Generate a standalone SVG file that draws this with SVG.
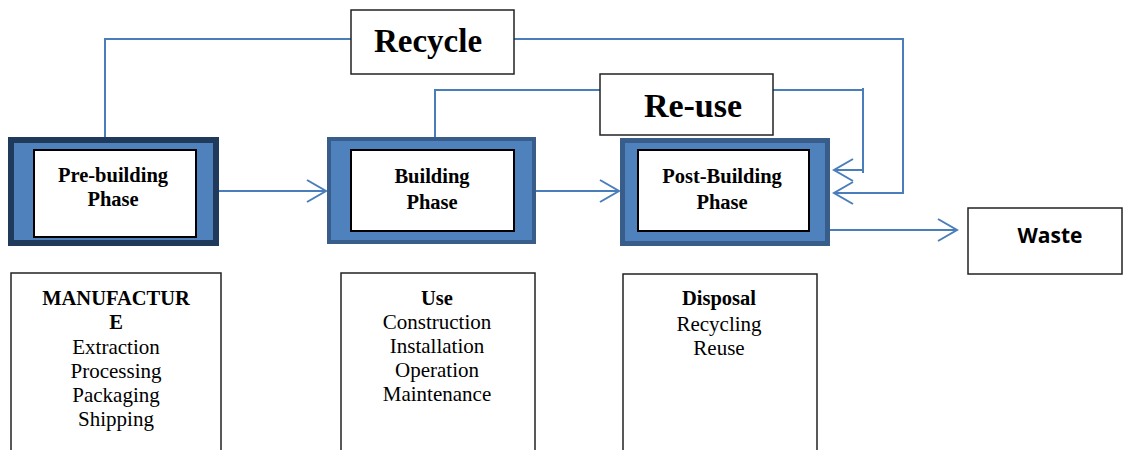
<svg xmlns="http://www.w3.org/2000/svg" width="1125" height="450" viewBox="0 0 1125 450">
<style>
.phase{fill:#4f81bd}
.inner{fill:#fff;stroke:#000;stroke-width:2}
.box{fill:#fff;stroke:#222;stroke-width:1.5}
.conn{fill:none;stroke:#4a7ebb;stroke-width:2}
.lbl{font-family:"Liberation Serif","Times New Roman",serif;font-weight:bold;font-size:20.5px;text-anchor:middle;fill:#000}
.big{font-family:"Liberation Serif","Times New Roman",serif;font-weight:bold;font-size:33px;text-anchor:middle;fill:#000}
.list{font-family:"Liberation Serif","Times New Roman",serif;font-size:21px;text-anchor:middle;fill:#000}
.listb{font-family:"Liberation Serif","Times New Roman",serif;font-size:20.5px;font-weight:bold;text-anchor:middle;fill:#000}
.sans{font-family:"Open Sans","Liberation Sans",sans-serif;font-weight:bold;font-size:21px;text-anchor:middle;fill:#000}
</style>
<defs>
<marker id="chev" markerWidth="24" markerHeight="28" refX="20" refY="12" orient="auto" markerUnits="userSpaceOnUse">
<path d="M1,1 L20,12 L1,23" fill="none" stroke="#4a7ebb" stroke-width="2"/>
</marker>
</defs>
<rect width="1125" height="450" fill="#fff"/>
<g id="connectors">
<path class="conn" d="M351,39 H105 V138"/>
<path class="conn" d="M514,39 H903 V193 H834" marker-end="url(#chev)"/>
<path class="conn" d="M600,90 H435 V138"/>
<path class="conn" d="M773,90 H863 V173"/>
<path class="conn" d="M863,88 V92"/>
<path class="conn" d="M863,170 H834" marker-end="url(#chev)"/>
<path class="conn" d="M218,191 H326" marker-end="url(#chev)"/>
<path class="conn" d="M536,191 H619" marker-end="url(#chev)"/>
<path class="conn" d="M830,230 H957" marker-end="url(#chev)"/>
</g>
<g id="recycle">
<rect class="box" x="351" y="10" width="163" height="64"/>
<text class="big" x="428" y="52">Recycle</text>
</g>
<g id="reuse">
<rect class="box" x="600" y="74" width="173" height="61"/>
<text class="big" x="693" y="117" style="font-size:34px">Re-use</text>
</g>
<g id="pre-building">
<rect class="phase" x="11" y="140" width="205" height="103" stroke="#203a5c" stroke-width="6"/>
<rect class="inner" x="34" y="150" width="162" height="87"/>
<text class="lbl" x="113" y="182">Pre-building</text>
<text class="lbl" x="113" y="206">Phase</text>
</g>
<g id="building">
<rect class="phase" x="329" y="139" width="205" height="103" stroke="#385d8a" stroke-width="4"/>
<rect class="inner" x="351" y="150" width="163" height="81"/>
<text class="lbl" x="432" y="183">Building</text>
<text class="lbl" x="432" y="209">Phase</text>
</g>
<g id="post-building">
<rect class="phase" x="622.5" y="140.5" width="205" height="103" stroke="#385d8a" stroke-width="5"/>
<rect class="inner" x="638" y="150" width="171" height="81"/>
<text class="lbl" x="722" y="183">Post-Building</text>
<text class="lbl" x="722" y="209">Phase</text>
</g>
<g id="waste">
<rect class="box" x="968" y="208" width="154" height="66"/>
<text class="sans" x="1050" y="243">Waste</text>
</g>
<g id="manufacture">
<rect class="box" x="11" y="273" width="210" height="178"/>
<text class="listb" x="116" y="305">MANUFACTUR</text>
<text class="listb" x="116" y="329">E</text>
<text class="list" x="116" y="354">Extraction</text>
<text class="list" x="116" y="378">Processing</text>
<text class="list" x="116" y="402">Packaging</text>
<text class="list" x="116" y="426">Shipping</text>
</g>
<g id="use">
<rect class="box" x="341" y="273" width="194" height="178"/>
<text class="listb" x="437" y="305">Use</text>
<text class="list" x="437" y="329">Construction</text>
<text class="list" x="437" y="353">Installation</text>
<text class="list" x="437" y="377">Operation</text>
<text class="list" x="437" y="401">Maintenance</text>
</g>
<g id="disposal">
<rect class="box" x="623" y="274" width="194" height="178"/>
<text class="listb" x="719" y="305">Disposal</text>
<text class="list" x="719" y="331">Recycling</text>
<text class="list" x="719" y="355">Reuse</text>
</g>
</svg>
